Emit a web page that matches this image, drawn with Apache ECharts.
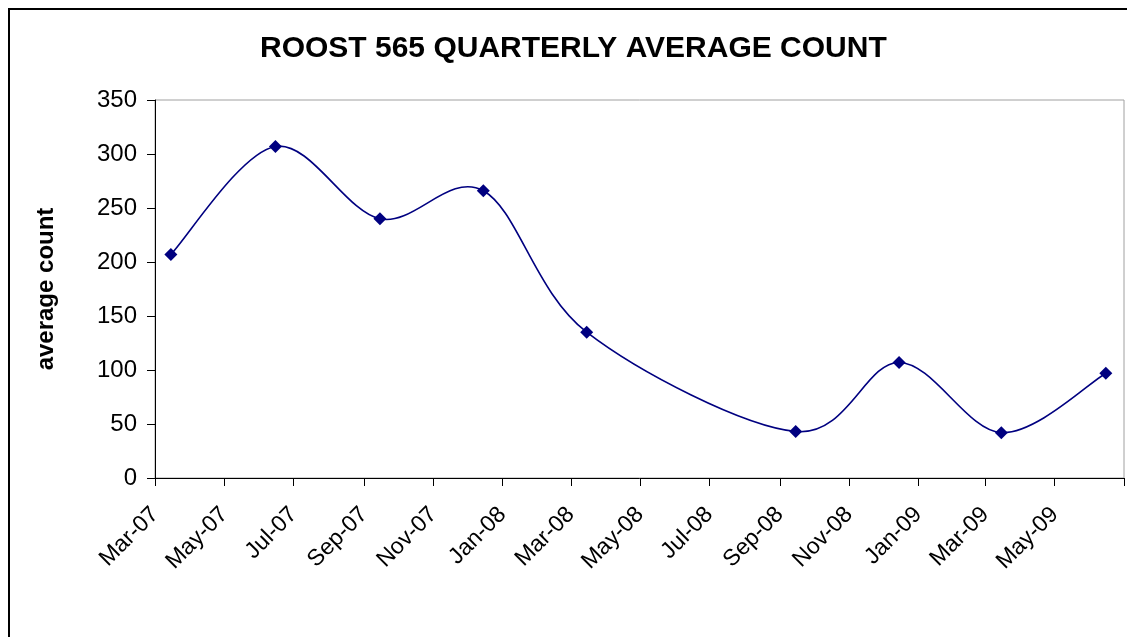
<!DOCTYPE html>
<html>
<head>
<meta charset="utf-8">
<script src="https://cdn.jsdelivr.net/npm/echarts@6/dist/echarts.min.js"></script>
<style>
html,body{margin:0;padding:0;background:#fff;}
#chart{width:1127px;height:637px;}
</style>
</head>
<body>
<div id="chart"></div>
<script>
// ---- data ----
const titleText = 'ROOST 565 QUARTERLY AVERAGE COUNT';
const yAxisName = 'average count';
const sampleDates = ['2007-03-15','2007-06-15','2007-09-15','2007-12-15','2008-03-15','2008-09-15','2008-12-15','2009-03-15','2009-06-15'];
const averageCounts = [207, 307, 240, 266, 135, 43, 107, 42, 97];
const tickDates = ['2007-03-01','2007-05-01','2007-07-01','2007-09-01','2007-11-01','2008-01-01','2008-03-01','2008-05-01','2008-07-01','2008-09-01','2008-11-01','2009-01-01','2009-03-01','2009-05-01'];
const tickLabels = ['Mar-07','May-07','Jul-07','Sep-07','Nov-07','Jan-08','Mar-08','May-08','Jul-08','Sep-08','Nov-08','Jan-09','Mar-09','May-09'];
const axisStart = '2007-03-01';
const axisEnd = '2009-07-01';
const yTicks = [0, 50, 100, 150, 200, 250, 300, 350];

function dayNum(s){
  const p = s.split('-').map(Number);
  return Math.round((Date.UTC(p[0], p[1]-1, p[2]) - Date.UTC(2007, 2, 1)) / 86400000);
}
const tickDays = tickDates.map(dayNum);
const labelByDay = {};
tickDays.forEach((d,i)=>{ labelByDay[d] = tickLabels[i]; });
const seriesData = sampleDates.map((d,i)=>[dayNum(d), averageCounts[i]]);

// Excel-style smoothed line: cubic Bezier through the points (Catmull-Rom, 1/6 tangents),
// positions come from the axes via api.coord.
function renderSmooth(params, api){
  if (params.dataIndex !== 0) return null;
  const P = seriesData.map(d => api.coord(d));
  const n = P.length;
  let path = 'M' + P[0][0] + ' ' + P[0][1];
  for (let i = 0; i < n - 1; i++){
    const p0 = P[Math.max(i-1,0)], p1 = P[i], p2 = P[i+1], p3 = P[Math.min(i+2,n-1)];
    const c1x = p1[0] + (p2[0]-p0[0])/6, c1y = p1[1] + (p2[1]-p0[1])/6;
    const c2x = p2[0] - (p3[0]-p1[0])/6, c2y = p2[1] - (p3[1]-p1[1])/6;
    path += ' C' + c1x + ' ' + c1y + ' ' + c2x + ' ' + c2y + ' ' + p2[0] + ' ' + p2[1];
  }
  return {
    type: 'path',
    shape: {pathData: path},
    style: {fill: 'none', stroke: '#000080', lineWidth: 1.6}
  };
}

const FONT = "'Liberation Sans', Arial, sans-serif";
const chart = echarts.init(document.getElementById('chart'), null, {renderer:'canvas'});
chart.setOption({
  animation: false,
  backgroundColor: '#ffffff',
  title: {
    text: titleText,
    left: 260,
    top: 34,
    padding: 0,
    textStyle: {fontFamily: FONT, fontSize: 30, fontWeight: 'bold', color: '#000'}
  },
  graphic: [{
    type: 'rect',
    shape: {x: 9, y: 9, width: 1300, height: 800},
    style: {fill: 'none', stroke: '#000', lineWidth: 2},
    silent: true
  }],
  grid: {
    left: 155, top: 100, right: 3, bottom: 159,
    show: true, borderColor: '#a0a0a0', borderWidth: 1, backgroundColor: 'transparent'
  },
  xAxis: {
    type: 'value',
    min: dayNum(axisStart),
    max: dayNum(axisEnd),
    axisLine: {show: true, onZero: false, lineStyle: {color: '#000', width: 1}},
    axisTick: {show: true, length: 8, inside: false, customValues: tickDays.concat([dayNum(axisEnd)]), lineStyle: {color: '#000'}},
    axisLabel: {
      show: true,
      customValues: tickDays,
      rotate: 45,
      margin: 33,
      fontFamily: FONT, fontSize: 23, color: '#000',
      formatter: v => labelByDay[v] || ''
    },
    splitLine: {show: false}
  },
  yAxis: {
    type: 'value',
    min: yTicks[0], max: yTicks[yTicks.length-1], interval: 50,
    name: yAxisName,
    nameLocation: 'middle',
    nameRotate: 90,
    nameGap: 97,
    nameTextStyle: {fontFamily: FONT, fontSize: 24, fontWeight: 'bold', color: '#000'},
    axisLine: {show: true, lineStyle: {color: '#000', width: 1}},
    axisTick: {show: true, length: 8, inside: false, lineStyle: {color: '#000'}},
    axisLabel: {margin: 18, fontFamily: FONT, fontSize: 24, color: '#000'},
    splitLine: {show: false}
  },
  series: [{
    type: 'custom',
    name: 'smoothed line',
    renderItem: renderSmooth,
    data: seriesData,
    silent: true,
    z: 2
  }, {
    type: 'scatter',
    name: 'average count',
    data: seriesData,
    symbol: 'diamond',
    symbolSize: 13,
    itemStyle: {color: '#000080', opacity: 1},
    z: 3
  }]
});
</script>
</body>
</html>
